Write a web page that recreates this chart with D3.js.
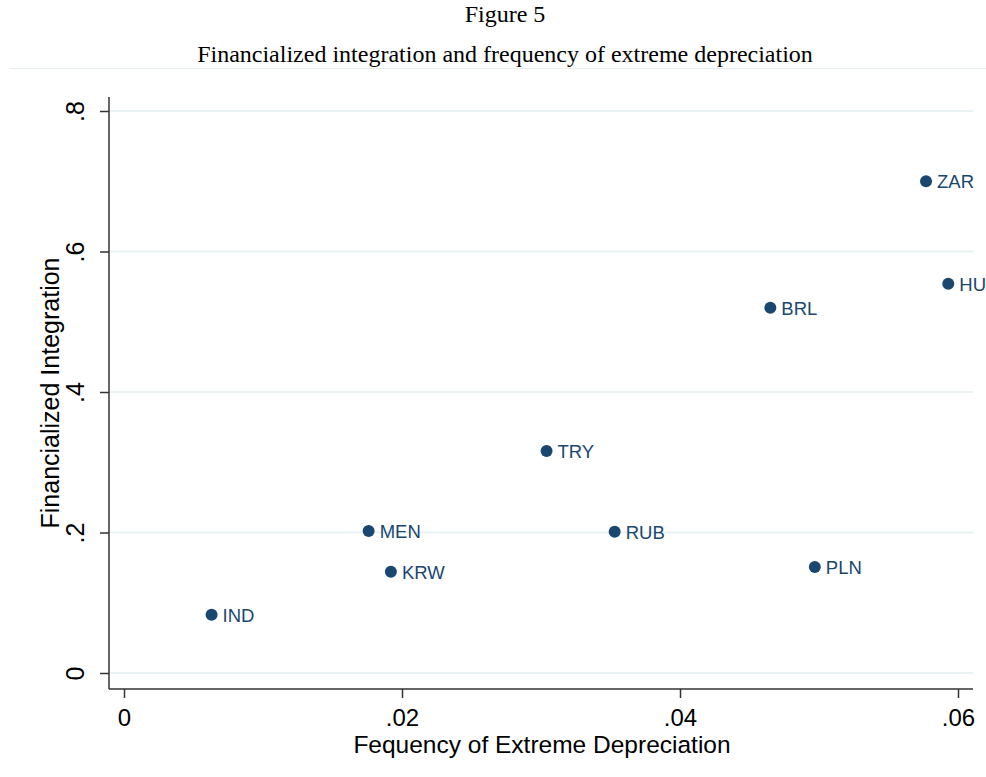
<!DOCTYPE html>
<html>
<head>
<meta charset="utf-8">
<script src="https://cdn.jsdelivr.net/npm/d3@7"></script>
<style>
  body { margin: 0; background: #fff; }
  svg { display: block; }
</style>
</head>
<body>
<div class="chart"></div>
<script>
var w = 986;
var h = 777;

// data
var currencies = ["IND", "MEN", "KRW", "TRY", "RUB", "BRL", "PLN", "ZAR", "HUF"];
var freqDep    = [0.0063, 0.0176, 0.0192, 0.0304, 0.0353, 0.0465, 0.0497, 0.0577, 0.0593];
var finInteg   = [0.083, 0.202, 0.144, 0.316, 0.201, 0.520, 0.151, 0.700, 0.554];
var xTicks = [0, 0.02, 0.04, 0.06];
var yTicks = [0, 0.2, 0.4, 0.6, 0.8];

var data = currencies.map(function(c, i) {
    return {name: c, x: freqDep[i], y: finInteg[i]};
});

var navy = "#1a476f";
var sans = "'Liberation Sans', Arial, sans-serif";
var serif = "'Liberation Serif', 'Times New Roman', serif";

var svg = d3.select('.chart')
            .append("svg")
            .attr("width", w)
            .attr("height", h);

// title
svg.append("text")
   .attr("x", 505).attr("y", 22)
   .attr("text-anchor", "middle")
   .style("font-family", serif)
   .style("font-size", "24px")
   .text("Figure 5");
svg.append("text")
   .attr("x", 505).attr("y", 62)
   .attr("text-anchor", "middle")
   .style("font-family", serif)
   .style("font-size", "24px")
   .text("Financialized integration and frequency of extreme depreciation");
svg.append("line")
   .attr("x1", 10).attr("x2", w)
   .attr("y1", 68.5).attr("y2", 68.5)
   .attr("stroke", "#e6edf1").attr("stroke-width", 1);

var x = d3.scaleLinear().domain([0, 0.06]).range([124, 958]);
var y = d3.scaleLinear().domain([0, 0.8]).range([673, 111]);

var pLeft = 109, pBottom = 689, pRight = 973, pTop = 97;

// grid
svg.append("g")
   .selectAll("line")
   .data(yTicks)
   .enter()
   .append("line")
   .attr("x1", pLeft).attr("x2", pRight)
   .attr("y1", function(d) { return y(d); })
   .attr("y2", function(d) { return y(d); })
   .attr("stroke", "#eaf2f3")
   .attr("stroke-width", 2);

// y axis
var yAxis = d3.axisLeft(y)
              .tickValues(yTicks)
              .tickSize(9)
              .tickPadding(0)
              .tickFormat(function(d) { return d === 0 ? "0" : d3.format(".1f")(d).replace(/^0/, ""); });
var gy = svg.append("g")
   .attr("transform", "translate(" + pLeft + ",0)")
   .call(yAxis);
gy.select(".domain").remove();
gy.append("line")
  .attr("x1", 0).attr("x2", 0)
  .attr("y1", pTop).attr("y2", pBottom)
  .attr("stroke", "#333").attr("stroke-width", 1.5);
gy.selectAll(".tick line").attr("stroke", "#333").attr("stroke-width", 1.5);
gy.selectAll(".tick text")
  .attr("transform", "rotate(-90)")
  .attr("x", 0)
  .attr("y", -25)
  .attr("dy", 0)
  .attr("text-anchor", "middle")
  .attr("fill", "#000")
  .style("font-family", sans)
  .style("font-size", "25px");

// x axis
var xAxis = d3.axisBottom(x)
              .tickValues(xTicks)
              .tickSize(9)
              .tickPadding(0)
              .tickFormat(function(d) { return d === 0 ? "0" : d3.format(".2f")(d).replace(/^0/, ""); });
var gx = svg.append("g")
   .attr("transform", "translate(0," + pBottom + ")")
   .call(xAxis);
gx.select(".domain").remove();
gx.append("line")
  .attr("x1", pLeft).attr("x2", pRight)
  .attr("y1", 0).attr("y2", 0)
  .attr("stroke", "#333").attr("stroke-width", 1.5);
gx.selectAll(".tick line").attr("stroke", "#333").attr("stroke-width", 1.5);
gx.selectAll(".tick text")
  .attr("y", 37)
  .attr("dy", 0)
  .attr("fill", "#000")
  .style("font-family", sans)
  .style("font-size", "24px");

// axis titles
svg.append("text")
   .attr("x", 542).attr("y", 753)
   .attr("text-anchor", "middle")
   .style("font-family", sans)
   .style("font-size", "24.5px")
   .text("Fequency of Extreme Depreciation");
svg.append("text")
   .attr("transform", "translate(59,393) rotate(-90)")
   .attr("text-anchor", "middle")
   .style("font-family", sans)
   .style("font-size", "25px")
   .text("Financialized Integration");

// points
svg.selectAll("circle")
   .data(data)
   .enter()
   .append("circle")
   .attr("cx", function(d) { return x(d.x); })
   .attr("cy", function(d) { return y(d.y); })
   .attr("r", 6)
   .style("fill", navy);

svg.selectAll("text.lbl")
   .data(data)
   .enter()
   .append("text")
   .attr("class", "lbl")
   .attr("x", function(d) { return x(d.x) + 11; })
   .attr("y", function(d) { return y(d.y) + 7; })
   .attr("fill", navy)
   .style("font-family", sans)
   .style("font-size", "18.5px")
   .text(function(d) { return d.name; });
</script>
</body>
</html>
